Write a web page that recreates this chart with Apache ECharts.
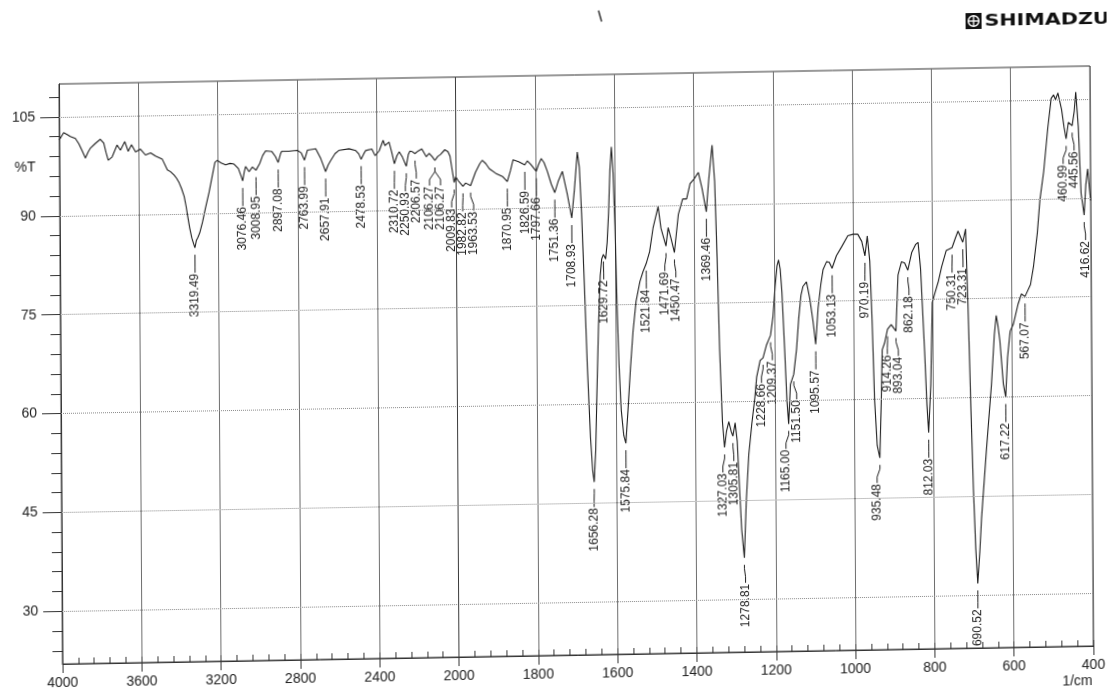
<!DOCTYPE html>
<html>
<head>
<meta charset="utf-8">
<script src="https://cdn.jsdelivr.net/npm/echarts@6/dist/echarts.min.js"></script>
<style>
  html, body { margin: 0; padding: 0; background: #fff; overflow: hidden; width: 1107px; height: 693px; }
  #chart { position: absolute; left: 0; top: 0; width: 1107px; height: 720px;
           transform-origin: 59px 84px; transform: skew(0.35deg, -1deg); }
</style>
</head>
<body>
<div id="chart"></div>
<script>
// IR transmittance spectrum (wavenumber in 1/cm, %T)
const wavenumbers = [
  4000, 3978, 3960, 3944, 3919, 3902, 3885, 3869, 3855, 3843, 3818, 3793, 3776, 3765, 3754, 3734,
  3709, 3692, 3670, 3653, 3636, 3616, 3591, 3566, 3540, 3515, 3481, 3456, 3440, 3423, 3410, 3397,
  3385, 3372, 3362, 3355, 3345, 3335, 3326, 3319.49, 3312, 3305, 3295, 3280, 3265, 3246, 3230, 3216,
  3204, 3185, 3162, 3140, 3120, 3098, 3085, 3076.46, 3068, 3061, 3044, 3027, 3008.95, 2990, 2975, 2960,
  2929, 2910, 2897.08, 2885, 2879, 2842, 2800, 2780, 2763.99, 2749, 2707, 2682, 2670, 2657.91, 2645, 2631,
  2610, 2589, 2539, 2505, 2490, 2478.53, 2465, 2455, 2424, 2408, 2387, 2367, 2358, 2350, 2337, 2324,
  2310.72, 2298, 2286, 2270, 2250.93, 2240, 2232, 2220, 2206.57, 2190, 2172, 2150, 2135, 2120, 2106.27, 2092,
  2078, 2056, 2040, 2030, 2020, 2009.83, 2002, 1995, 1982.82, 1976, 1963.53, 1951, 1940, 1934, 1925, 1916,
  1900, 1883, 1870.95, 1863, 1856, 1842, 1826.59, 1820, 1812, 1797.66, 1792, 1785, 1778, 1770, 1760, 1751.36,
  1742, 1732, 1720, 1708.93, 1702, 1694, 1689, 1684, 1678, 1672, 1665, 1660, 1656.28, 1652, 1648, 1643,
  1638, 1634, 1629.72, 1624, 1620, 1616, 1612, 1608, 1604, 1600, 1596, 1592, 1587, 1581, 1575.84, 1570,
  1563, 1556, 1548, 1538, 1530, 1521.84, 1513, 1504, 1491, 1484, 1471.69, 1466, 1459, 1450.47, 1440, 1429,
  1419, 1410, 1400, 1389, 1380, 1369.46, 1363, 1354, 1348, 1343, 1338, 1332, 1327.03, 1322, 1316, 1310,
  1305.81, 1300, 1295, 1290, 1285, 1278.81, 1273, 1266, 1258, 1250, 1245, 1236, 1228.66, 1220, 1209.37, 1203,
  1197, 1192, 1188, 1184, 1180, 1174, 1169, 1165.00, 1160, 1151.50, 1144, 1138, 1132, 1127, 1118, 1110,
  1102, 1095.57, 1089, 1082, 1076, 1067, 1060, 1053.13, 1042, 1029, 1013, 1000, 988, 978, 970.19, 964,
  958, 953, 948, 942, 935.48, 931, 928, 922, 914.26, 905, 893.04, 887, 878, 870, 862.18, 852,
  842, 836, 830, 821, 816, 812.03, 806, 801, 795, 785, 777, 765, 750.31, 742, 735, 723.31,
  716, 711, 705, 700, 695, 690.52, 685, 680, 667, 653, 645, 640, 636, 631, 623, 617.22,
  612, 605, 597, 585, 576, 567.07, 553, 545, 535, 528, 518, 507, 498, 492, 487, 481,
  472, 466, 460.99, 455, 445.56, 440, 436, 430, 424, 416.62, 412, 407, 403, 400
];
const transmittance = [
  101.5, 102.6, 102.3, 102.0, 101.7, 100.9, 99.8, 98.7, 99.6, 100.2, 100.9, 101.5, 100.9, 99.5, 98.3, 98.8,
  100.6, 99.8, 101.1, 99.6, 100.6, 99.5, 99.9, 99.0, 99.3, 98.8, 98.3, 96.7, 96.4, 95.9, 95.4, 94.7,
  93.8, 92.6, 91.0, 89.6, 87.8, 86.3, 85.4, 84.8, 85.9, 86.3, 87.0, 88.7, 90.8, 93.2, 95.6, 97.7,
  98.0, 97.6, 97.3, 97.5, 97.4, 96.7, 95.6, 94.8, 96.2, 97.0, 96.2, 96.9, 96.4, 97.4, 98.6, 99.3,
  99.2, 98.4, 97.5, 98.8, 99.2, 99.2, 99.3, 98.9, 97.8, 99.3, 99.5, 98.0, 97.0, 96.0, 97.0, 97.7,
  98.7, 99.2, 99.4, 99.1, 98.6, 97.8, 98.6, 99.1, 99.3, 98.3, 99.0, 100.6, 99.8, 100.0, 100.3, 98.8,
  97.0, 98.2, 98.8, 98.0, 96.6, 98.4, 98.9, 98.8, 98.5, 98.9, 99.2, 98.0, 98.5, 98.0, 97.4, 98.0,
  98.3, 99.0, 98.7, 98.0, 96.0, 94.0, 94.9, 94.3, 93.4, 93.9, 93.5, 95.5, 96.8, 97.3, 96.8, 96.0,
  95.3, 94.8, 94.0, 95.6, 97.3, 97.0, 96.5, 97.1, 96.6, 95.5, 96.5, 97.4, 96.8, 95.5, 93.5, 92.2,
  94.0, 95.4, 92.0, 88.3, 92.5, 98.3, 96.0, 89.0, 78.0, 66.0, 55.0, 50.0, 48.2, 53.0, 62.0, 72.0,
  79.5, 82.0, 82.7, 82.0, 84.5, 89.0, 95.5, 99.0, 95.0, 87.0, 75.0, 66.0, 59.0, 55.2, 54.0, 59.0,
  65.5, 71.0, 75.5, 78.5, 80.0, 81.2, 83.0, 86.6, 89.8, 86.5, 83.8, 86.6, 85.0, 82.8, 88.6, 90.9,
  90.9, 93.2, 93.9, 94.9, 92.5, 88.9, 93.7, 99.0, 93.5, 82.0, 68.0, 57.0, 53.1, 55.5, 57.0, 55.5,
  54.8, 56.8, 54.0, 47.0, 40.5, 36.3, 45.0, 52.0, 56.6, 60.5, 63.7, 66.2, 66.6, 68.5, 70.0, 72.8,
  77.5, 80.5, 81.4, 80.0, 76.5, 67.8, 60.0, 56.5, 62.5, 64.0, 67.8, 72.5, 76.0, 77.3, 78.0, 75.5,
  72.0, 68.5, 74.0, 77.5, 79.8, 81.0, 80.9, 80.0, 81.9, 83.2, 84.9, 85.1, 85.1, 84.0, 81.8, 84.8,
  81.0, 72.0, 60.0, 53.0, 51.1, 60.0, 67.5, 68.5, 70.6, 71.3, 70.3, 78.8, 80.8, 80.6, 79.5, 82.2,
  83.4, 83.7, 79.7, 67.1, 59.0, 54.8, 62.0, 74.5, 75.8, 77.8, 79.9, 82.4, 82.8, 84.2, 85.3, 83.6,
  85.6, 74.2, 58.0, 46.0, 37.0, 31.8, 36.5, 41.7, 51.8, 61.9, 69.5, 72.4, 71.0, 68.5, 62.0, 60.0,
  66.0, 70.0, 71.0, 74.0, 75.6, 75.2, 77.0, 79.8, 84.8, 89.8, 94.1, 100.7, 105.2, 105.7, 105.0, 106.0,
  103.5, 100.8, 99.0, 101.5, 101.0, 103.2, 106.1, 100.8, 90.7, 87.4, 92.0, 94.4, 91.5, 89.6
];
// Peak positions printed beside the trace (1/cm)
const peakLabels = [
  3319.49, 3076.46, 3008.95, 2897.08, 2763.99, 2657.91, 2478.53, 2310.72, 2250.93, 2206.57,
  2106.27, 2106.27, 2009.83, 1982.82, 1963.53, 1870.95, 1826.59, 1797.66, 1751.36, 1708.93,
  1656.28, 1629.72, 1575.84, 1521.84, 1471.69, 1450.47, 1369.46, 1327.03, 1305.81, 1278.81,
  1228.66, 1209.37, 1165.00, 1151.50, 1095.57, 1053.13, 970.19, 935.48, 914.26, 893.04,
  862.18, 812.03, 750.31, 723.31, 690.52, 617.22, 567.07, 460.99, 445.56, 416.62
];
const xTickLabels = [4000, 3600, 3200, 2800, 2400, 2000, 1800, 1600, 1400, 1200, 1000, 800, 600, 400];
const yTickLabels = [30, 45, 60, 75, 90, 105];

// The chart paper halves its scale at 2000 1/cm: 400 per division above, 200 below.
function toAxis(wn) { return wn >= 2000 ? (4000 - wn) / 400 : 5 + (2000 - wn) / 200; }
function fromAxis(t) { return t <= 5 ? 4000 - 400 * t : 2000 - 200 * (t - 5); }

function valueAt(wn) {
  for (let i = 0; i < wavenumbers.length - 1; i++) {
    const a = wavenumbers[i], b = wavenumbers[i + 1];
    if (wn <= a && wn >= b) {
      const f = a === b ? 0 : (a - wn) / (a - b);
      return transmittance[i] + f * (transmittance[i + 1] - transmittance[i]);
    }
  }
  return transmittance[transmittance.length - 1];
}

const yMinorTicks = [];
for (let v = 24; v <= 108; v += 3) if (yTickLabels.indexOf(v) < 0) yMinorTicks.push(v);

const spectrum = wavenumbers.map((w, i) => [toAxis(w), transmittance[i]]);
const labelData = peakLabels.map((w, i) => [toAxis(w), valueAt(w), i]);

const FONT = '"Liberation Sans", Arial, sans-serif';
const INK = '#1e1e1e';

// Spread crowded peak labels sideways so their rotated texts do not overlap.
function layoutLabels(api) {
  const anchors = peakLabels.map(w => api.coord([toAxis(w), valueAt(w)]));
  const pos = anchors.map(p => p[0]);
  const minGap = 11;
  for (let it = 0; it < 300; it++) {
    let moved = false;
    for (let i = 0; i < pos.length - 1; i++) {
      const d = pos[i + 1] - pos[i];
      if (d < minGap - 0.01) {
        const s = (minGap - d) / 2;
        pos[i] -= s; pos[i + 1] += s; moved = true;
      }
    }
    if (!moved) break;
  }
  return { anchors, pos };
}

function renderPeakLabel(params, api) {
  const i = api.value(2);
  const lay = layoutLabels(api);
  const ax = lay.anchors[i][0], ay = lay.anchors[i][1], lx = lay.pos[i];
  const y0 = ay + 7, y1 = y0 + 4, y2 = y0 + 12, y3 = y0 + 18;
  return {
    type: 'group',
    children: [
      { type: 'polyline', shape: { points: [[ax, y0], [ax, y1], [lx, y2], [lx, y3]] },
        style: { stroke: INK, lineWidth: 1, fill: null } },
      { type: 'text', x: lx, y: y3 + 1, rotation: Math.PI / 2,
        style: { text: peakLabels[i].toFixed(2), align: 'right', verticalAlign: 'middle',
                 font: '12px ' + FONT, fill: INK } }
    ]
  };
}

const chart = echarts.init(document.getElementById('chart'), null, { renderer: 'canvas' });
chart.setOption({
  animation: false,
  backgroundColor: '#ffffff',
  grid: { left: 59, top: 84, width: 1031, height: 580, show: true,
          borderColor: '#333', borderWidth: 1, backgroundColor: 'transparent' },
  xAxis: [
    { type: 'value', min: 0, max: 13, interval: 1, position: 'bottom',
      axisLine: { show: true, lineStyle: { color: '#333', width: 1 } },
      axisTick: { show: true, inside: false, length: 9, lineStyle: { color: '#333' } },
      axisLabel: { show: true, margin: 12, fontSize: 14, fontFamily: FONT, color: '#222',
                   formatter: v => String(Math.round(fromAxis(v))) },
      splitLine: { show: true, lineStyle: { color: '#6e6e6e', width: 1 } } },
    { type: 'value', min: 0, max: 13, interval: 0.2, position: 'bottom',
      axisLine: { show: false },
      axisTick: { show: true, inside: true, length: 6, lineStyle: { color: '#333' } },
      axisLabel: { show: false }, splitLine: { show: false } }
  ],
  yAxis: [
    { type: 'value', min: 22, max: 110, position: 'left',
      axisLine: { show: true, lineStyle: { color: '#333', width: 1 } },
      axisTick: { show: true, length: 19, customValues: yTickLabels, lineStyle: { color: '#333' } },
      axisLabel: { show: true, margin: 24, fontSize: 14, fontFamily: FONT, color: '#222',
                   customValues: yTickLabels },
      splitLine: { show: false } },
    { type: 'value', min: 22, max: 110, position: 'left',
      axisLine: { show: false },
      axisTick: { show: true, length: 10, customValues: yMinorTicks, lineStyle: { color: '#333' } },
      axisLabel: { show: false }, splitLine: { show: false } }
  ],
  graphic: [
    { type: 'text', left: 14, top: 160, style: { text: '%T', font: '14px ' + FONT, fill: '#222' } },
    { type: 'text', x: 1089, y: 699, style: { text: '1/cm', font: '14px ' + FONT, fill: '#222',
      align: 'right', verticalAlign: 'middle' } },
    { type: 'rect', shape: { x: 966, y: 29, width: 16, height: 16 }, style: { fill: '#111' } },
    { type: 'circle', shape: { cx: 974, cy: 37, r: 5.3 }, style: { fill: null, stroke: '#fff', lineWidth: 1.5 } },
    { type: 'line', shape: { x1: 974, y1: 31.7, x2: 974, y2: 42.3 }, style: { stroke: '#fff', lineWidth: 1.3 } },
    { type: 'line', shape: { x1: 968.7, y1: 37, x2: 979.3, y2: 37 }, style: { stroke: '#fff', lineWidth: 1.3 } },
    { type: 'text', x: 985, y: 37.5, scaleX: 1.25, style: { text: 'SHIMADZU',
      font: 'bold 16.5px "DejaVu Sans", sans-serif', fill: '#111', verticalAlign: 'middle' } },
    { type: 'line', shape: { x1: 599, y1: 20, x2: 602, y2: 31 }, style: { stroke: '#333', lineWidth: 1.5 } }
  ],
  series: [
    { type: 'line', xAxisIndex: 0, yAxisIndex: 0, data: spectrum, showSymbol: false, smooth: false,
      lineStyle: { color: INK, width: 1.1 }, silent: true, z: 3,
      markLine: { silent: true, symbol: ['none', 'none'], label: { show: false },
        data: yTickLabels.map(v => ({ yAxis: v, lineStyle: { type: 'dotted', color: '#8a8a8a', width: 1 } }))
          .concat([{ xAxis: toAxis(2000), lineStyle: { type: 'solid', color: '#3a3a3a', width: 1 } }]) } },
    { type: 'custom', xAxisIndex: 0, yAxisIndex: 0, data: labelData, renderItem: renderPeakLabel,
      silent: true, z: 4 }
  ]
});
</script>
</body>
</html>
